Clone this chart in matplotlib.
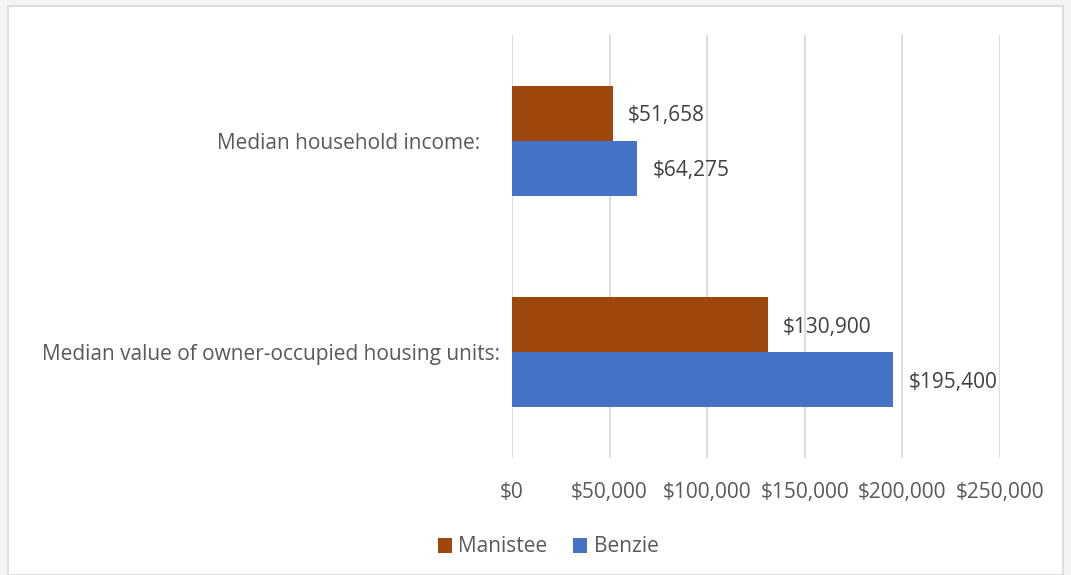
import matplotlib
matplotlib.use("Agg")
import matplotlib.pyplot as plt
from matplotlib.patches import Rectangle
from matplotlib.ticker import FuncFormatter, MultipleLocator
import numpy as np

categories = ["Median household income:", "Median value of owner-occupied housing units:"]
series_names = ["Manistee", "Benzie"]
manistee = [51658, 130900]
benzie = [64275, 195400]
colors = ["#9E480E", "#4472C4"]

plt.rcParams['font.family'] = ['Open Sans', 'DejaVu Sans']
txt = "#595959"
fs = 15

fig = plt.figure(figsize=(10.71, 5.75), dpi=100)
fig.patch.set_facecolor("#f4f4f4")
fig.patches.append(Rectangle((8/1071, 0), (1063-8)/1071, 1-6/575, transform=fig.transFigure,
                             facecolor="white", edgecolor="#d9d9d9", linewidth=1.2, zorder=-10))

ax = fig.add_axes([512/1071, 1-458/575, (1000-512)/1071, (458-35)/575])
ax.set_zorder(2)
ax.set_facecolor("none")

y = np.arange(len(categories))
h = 0.26
for vals, name, col, off in [(manistee, series_names[0], colors[0], -h/2), (benzie, series_names[1], colors[1], h/2)]:
    bars = ax.barh(y + off, vals, height=h, color=col, label=name, zorder=3)
    for b, v in zip(bars, vals):
        ax.annotate(f"${v:,.0f}", (b.get_width(), b.get_y() + b.get_height()/2),
                    xytext=(11, -1.8), textcoords="offset points", va="center", ha="left",
                    fontsize=fs, color="#404040")

ax.set_xlim(0, 250000)
ax.set_ylim(1.5, -0.5)
ax.xaxis.set_major_locator(MultipleLocator(50000))
ax.xaxis.set_major_formatter(FuncFormatter(lambda v, p: f"${v:,.0f}"))
ax.grid(axis="x", color="#d9d9d9", linewidth=1.3, zorder=0)
ax.set_yticks(y)
ax.set_yticklabels(categories)
for s in ax.spines.values():
    s.set_visible(False)
ax.tick_params(axis="both", length=0, labelsize=fs, labelcolor=txt)
ax.tick_params(axis="x", pad=17.5)
ticks = ax.yaxis.get_major_ticks()
ticks[0].set_pad(23)
ticks[1].set_pad(8.6)

leg = fig.legend(loc="center", bbox_to_anchor=(548/1071, 1-547/575), ncol=2, frameon=False,
                 fontsize=fs, handlelength=0.7, handleheight=0.7, handletextpad=0.3,
                 columnspacing=1.2)
for t in leg.get_texts():
    t.set_color(txt)

fig.savefig("out.png", dpi=100, facecolor=fig.get_facecolor())
